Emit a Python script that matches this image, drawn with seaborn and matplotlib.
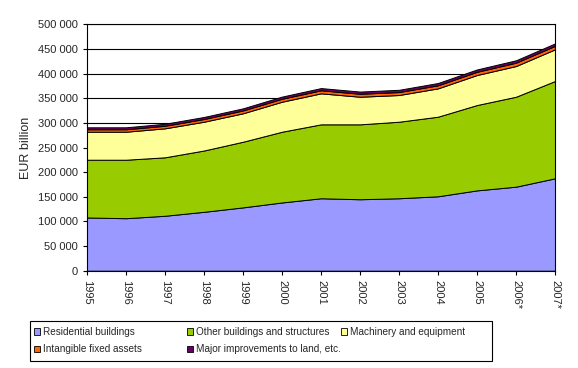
import matplotlib
matplotlib.use("Agg")
import matplotlib.pyplot as plt
import seaborn as sns
import numpy as np
from matplotlib.patches import Patch, Rectangle

years = ["1995", "1996", "1997", "1998", "1999", "2000", "2001", "2002",
         "2003", "2004", "2005", "2006*", "2007*"]
residential = [108000, 106500, 111500, 119500, 128500, 138500, 147000, 145000,
               147000, 151000, 163000, 170500, 187500]
other_buildings = [117200, 118700, 118600, 124400, 133200, 143500, 150000, 152000,
                   155300, 161500, 173200, 182500, 197400]
machinery = [56800, 56800, 58800, 58400, 57700, 60900, 62900, 56000,
             54200, 57500, 60900, 62300, 64300]
intangible = [5000, 5000, 5200, 5500, 5800, 6000, 6200, 6000,
              6000, 6200, 6500, 6800, 7000]
land = [4000, 4000, 4100, 4200, 4300, 4400, 4500, 4500,
        4600, 4700, 4800, 4900, 5000]

series_names = ["Residential buildings", "Other buildings and structures",
                "Machinery and equipment", "Intangible fixed assets",
                "Major improvements to land, etc."]
colors = ["#9999FF", "#99CC00", "#FFFF99", "#FF6600", "#660066"]

sns.set_style("white")
plt.rcParams['font.family'] = ['Liberation Sans', 'DejaVu Sans']

W, H = 578, 368
fig = plt.figure(figsize=(W / 100, H / 100), dpi=100)
ax = fig.add_axes([87 / W, 1 - 270.7 / H, (555 - 87) / W, (270.7 - 24.3) / H])

x = np.arange(len(years))
data = [residential, other_buildings, machinery, intangible, land]
ax.stackplot(x, *data, colors=colors, edgecolor="black", linewidth=0.7, zorder=2)

ax.set_xlim(0, len(years) - 1)
ax.set_ylim(0, 500000)
ax.set_yticks(np.arange(0, 500001, 50000))
ax.set_yticklabels([f"{v:,}".replace(",", " ") for v in range(0, 500001, 50000)], fontsize=8)
ax.set_xticks(x)
ax.set_xticklabels(years, rotation=270, fontsize=8)
ax.tick_params(axis="both", which="both", length=3, width=0.8, color="black",
               direction="out", bottom=True, left=True)
ax.yaxis.grid(True, color="black", linewidth=0.8, zorder=0)
ax.set_axisbelow(True)
for s in ax.spines.values():
    s.set_color("black")
    s.set_linewidth(0.8)
ax.set_ylabel("EUR billion", fontsize=9, labelpad=4)

# legend frame
fig.patches.append(Rectangle((30.5 / W, 1 - 361 / H), (492 - 30.5) / W, 40 / H,
                             transform=fig.transFigure, facecolor="white",
                             edgecolor="black", linewidth=0.8))

handles = [Patch(facecolor=c, edgecolor="black", linewidth=0.6) for c in colors]
columns = [[0, 3], [1, 4], [2]]
col_x = [33.5, 186.5, 340.5]
for cx, idx in zip(col_x, columns):
    leg = fig.legend([handles[i] for i in idx], [series_names[i] for i in idx],
                     loc="upper left", bbox_to_anchor=(cx / W, 1 - 327 / H),
                     fontsize=7.2, frameon=False,
                     handlelength=0.6, handleheight=0.6, handletextpad=0.35,
                     borderpad=0, labelspacing=0.75, borderaxespad=0)

fig.savefig("out.png", dpi=100)
